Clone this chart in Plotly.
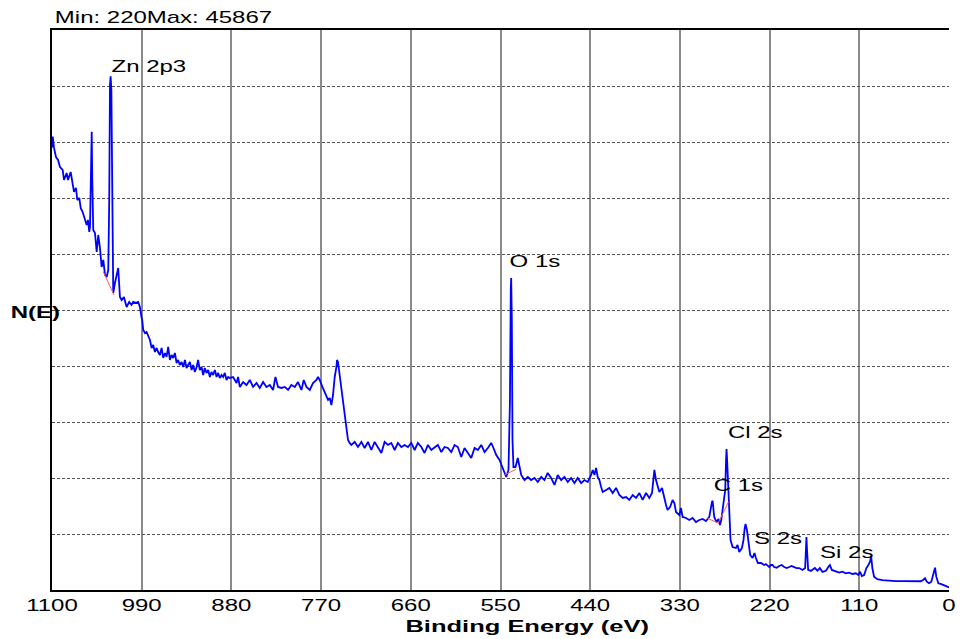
import plotly.graph_objects as go

# ---- data (binding energy in eV, counts) ----
be_main = [
    1100.0, 1099.1, 1097.5, 1095.1, 1092.6, 1090.2, 1086.9, 1085.3, 1082.0, 1080.4,
    1077.1, 1074.6, 1073.0, 1070.6, 1069.0, 1066.5, 1064.8, 1062.4, 1060.8, 1059.2,
    1057.5, 1055.9, 1054.3, 1053.4, 1052.2, 1051.3, 1050.6, 1049.4, 1047.3, 1045.2,
    1043.3, 1041.2, 1039.1, 1037.1, 1035.0, 1033.0, 1031.0, 1029.8, 1028.9, 1028.1,
    1027.2, 1026.2, 1024.9, 1022.8, 1020.7, 1018.8, 1016.7, 1014.6, 1011.8, 1008.5,
    1005.3, 1002.4, 1000.4, 997.1, 994.3, 992.2, 990.1, 989.4, 988.1, 986.0,
    984.0, 982.0, 979.9, 977.8, 975.9, 973.8, 971.7, 969.8, 967.7, 965.6,
    963.6, 961.5, 959.5, 957.5, 955.4, 953.4, 951.4, 949.3, 947.2, 945.3,
    943.2, 941.1, 939.1, 937.0, 935.0, 933.0, 930.9, 928.8, 926.9, 924.8,
    922.7, 920.8, 918.7, 916.6, 914.6, 912.6, 910.5, 908.5, 906.4, 904.4,
    902.4, 900.3, 898.2, 896.3, 894.2, 892.1, 890.1, 888.1, 886.0, 884.0,
    881.9, 877.9, 873.7, 871.8, 869.7, 865.6, 861.5, 857.4, 853.4, 849.2,
    845.2, 841.1, 837.0, 832.9, 828.9, 826.0, 822.8, 818.6, 814.6, 810.5,
    806.4, 802.3, 798.3, 794.1, 791.3, 788.0, 783.9, 779.9, 775.7, 773.8,
    771.7, 768.4, 765.6, 763.5, 761.5, 759.4, 757.4, 755.4, 753.3, 751.2,
    750.5, 749.3, 747.2, 745.1, 743.1, 741.1, 739.0, 737.0, 735.0, 732.9,
    728.8, 724.8, 720.6, 716.6, 712.5, 708.4, 704.3, 700.3, 696.1, 692.1,
    688.0, 683.9, 679.8, 675.8, 671.6, 667.6, 663.5, 659.4, 655.3, 651.3,
    647.1, 643.1, 639.0, 634.9, 630.8, 626.8, 622.6, 618.6, 614.5, 610.4,
    606.3, 602.3, 598.1, 594.1, 590.0, 585.9, 581.8, 577.8, 573.6, 569.6,
    565.5, 561.4, 558.6, 555.2, 551.2, 547.9, 545.1, 543.0, 540.2, 538.4,
    537.4, 536.9, 536.1, 535.3, 534.1, 531.6, 528.8, 526.7, 524.6, 520.6,
    516.5, 512.4, 508.3, 504.3, 500.1, 496.1, 492.1, 487.9, 483.8, 479.8,
    475.6, 471.6, 467.5, 463.4, 459.3, 455.3, 451.1, 447.1, 443.0, 438.9,
    436.9, 434.8, 432.8, 430.8, 428.7, 426.6, 424.7, 420.5, 416.5, 412.4,
    408.3, 404.2, 400.2, 396.0, 392.0, 387.9, 383.8, 379.7, 375.7, 371.5,
    367.5, 364.2, 362.6, 361.3, 359.3, 357.3, 355.2, 351.9, 349.1, 347.0,
    345.1, 342.1, 338.9, 336.8, 334.8, 330.7, 328.7, 326.7, 322.5, 318.5,
    314.4, 310.3, 306.2, 302.2, 298.0, 294.0, 290.7, 289.9, 287.9, 285.0,
    282.6, 280.9, 279.3, 276.8, 274.4, 273.4, 272.8, 272.1, 271.1, 269.5,
    267.9, 265.4, 261.3, 259.3, 257.2, 253.9, 252.0, 250.5, 249.5, 247.8,
    245.8, 243.8, 240.9, 238.5, 236.8, 234.3, 230.6, 226.6, 224.5, 222.6,
    220.5, 218.4, 216.4, 214.4, 211.3, 208.2, 205.2, 202.1, 199.0, 196.0,
    193.0, 189.9, 186.8, 183.7, 179.7, 176.4, 175.4, 174.8, 174.1, 172.7,
    169.4, 167.4, 164.5, 161.3, 158.4, 155.2, 151.0, 147.8, 146.1, 143.7,
    138.8, 134.7, 130.7, 126.5, 122.5, 118.4, 114.3, 111.1, 109.0, 106.9,
    104.1, 101.3, 98.9, 96.8, 95.5, 94.0, 91.9, 87.8, 81.7, 73.5,
    65.3, 57.2, 49.0, 40.8, 34.7, 31.8, 29.4, 27.3, 24.5, 21.7,
    19.6, 17.1, 15.6, 13.1, 10.2, 6.1, 2.1, 0.0,
]
counts_main = [
    39500, 40480, 39470, 38660, 38400, 37770, 37500, 36610, 37230, 36610,
    37320, 35980, 35540, 35900, 34820, 35000, 34110, 33750, 33310, 33040,
    32590, 33040, 31970, 32410, 36610, 40920, 36610, 32140, 31880, 30180,
    31700, 30540, 28840, 29470, 28130, 27950, 28570, 34820, 45090, 45867,
    44650, 34820, 26520, 27410, 28310, 28750, 26160, 25890, 26160, 25270,
    25720, 25450, 25720, 25630, 25720, 25270, 24290, 24110, 23220, 22950,
    23040, 22590, 22320, 21610, 21880, 21250, 21610, 21250, 20980, 21610,
    20720, 21160, 20810, 21700, 20540, 20980, 20720, 21160, 20270, 20540,
    20090, 20360, 19910, 20540, 19820, 20090, 20360, 19640, 20090, 19470,
    19910, 20540, 19640, 19910, 19200, 19820, 19380, 19640, 19020, 19470,
    19200, 19640, 19020, 19380, 18930, 19200, 19020, 19380, 18750, 19020,
    18930, 19020, 18480, 19020, 18130, 18570, 18300, 18750, 18130, 18480,
    18040, 18570, 18130, 18300, 17860, 19020, 18130, 18040, 18130, 17860,
    18300, 18130, 18570, 17860, 18750, 18130, 17860, 18480, 18750, 19020,
    18750, 18130, 17590, 17230, 16970, 17140, 16520, 17410, 19020, 19910,
    20540, 20360, 19200, 17860, 16520, 15450, 14290, 13390, 13130, 12950,
    13220, 12770, 13220, 12680, 13220, 12500, 13220, 12770, 12230, 13220,
    12950, 13130, 12500, 13130, 12770, 12950, 12770, 13130, 12500, 13130,
    12770, 12230, 12950, 12500, 12770, 12950, 12320, 12770, 12680, 12320,
    12950, 12770, 11880, 12680, 12230, 11790, 12680, 12500, 12950, 12320,
    12680, 13130, 12680, 12050, 11610, 10980, 10450, 10090, 10720, 16970,
    26790, 27860, 24110, 13390, 10980, 10980, 11790, 11160, 10270, 9820,
    10090, 9820, 10000, 9640, 10090, 9820, 10450, 10000, 9380, 10270,
    9820, 10090, 9640, 10000, 9550, 10000, 9550, 9820, 9640, 10270,
    10720, 10270, 10890, 10090, 9820, 9200, 8750, 8930, 9110, 8660,
    9110, 8480, 8220, 8300, 8040, 8480, 8220, 8660, 8040, 8660,
    8220, 8660, 9820, 10720, 9820, 9200, 8750, 9110, 8040, 7590,
    7140, 7410, 8040, 7770, 6970, 6700, 7320, 6520, 6430, 6250,
    6430, 6070, 6250, 6340, 6160, 6520, 7860, 7970, 6520, 6070,
    6340, 5800, 6250, 7410, 8930, 11610, 12590, 11610, 9820, 6520,
    4470, 3840, 3750, 4020, 3390, 3750, 4470, 5540, 5890, 5360,
    4020, 3130, 2860, 3300, 2860, 2410, 2410, 2230, 2320, 2140,
    2050, 2230, 2230, 2050, 1990, 2140, 2230, 2050, 1960, 2050,
    2140, 2050, 1960, 1960, 1790, 1960, 3570, 4730, 3570, 1790,
    1700, 1790, 1960, 1720, 1960, 1610, 1720, 2080, 2230, 1790,
    1630, 1550, 1630, 1490, 1550, 1430, 1490, 1340, 1630, 1250,
    1340, 1960, 2230, 2530, 3040, 1960, 1190, 960, 890, 830,
    800, 800, 780, 740, 780, 890, 1050, 740, 600, 740,
    1340, 1990, 1190, 600, 540, 450, 300, 220,
]

# background (fit) segments drawn in red
be_bg = [1037.1, 1024.0, None, 545.1, 530.8, None, 296.1, 283.0, 270.3]
counts_bg = [28420, 26340, None, 10270, 10780, None, 6400, 5980, 7880]

x_ticks = [1100, 990, 880, 770, 660, 550, 440, 330, 220, 110, 0]
x_tick_labels = [str(v) for v in x_ticks]

peak_names = ["Zn 2p3", "O 1s", "Cl 2s", "C 1s", "S 2s", "Si 2s"]
peak_label_be = [981.2, 507.1, 237.6, 258.5, 209.5, 125.6]
peak_label_counts = [46700, 29290, 14020, 9290, 4640, 3390]

title_text = "Min: 220Max: 45867"

FONT = "Arial, 'Liberation Sans', sans-serif"

fig = go.Figure()
fig.add_trace(go.Scatter(x=be_main, y=counts_main, mode="lines",
                         line=dict(color="#0000ff", width=1.8), hoverinfo="skip"))
fig.add_trace(go.Scatter(x=be_bg, y=counts_bg, mode="lines",
                         line=dict(color="#ff5a5a", width=1), hoverinfo="skip"))

annotations = []
for name, bx, cy in zip(peak_names, peak_label_be, peak_label_counts):
    annotations.append(dict(x=bx, y=cy, xref="x", yref="y", text=name, showarrow=False,
                            xanchor="center", yanchor="middle",
                            font=dict(family=FONT, size=16, color="black")))
annotations.append(dict(x=0.1242, y=1.0232, xref="paper", yref="paper", text=title_text,
                        showarrow=False, xanchor="center", yanchor="middle",
                        font=dict(family=FONT, size=16, color="black")))
annotations.append(dict(x=-0.0189, y=0.4964, xref="paper", yref="paper", text="<b>N(E)</b>",
                        showarrow=False, xanchor="center", yanchor="middle",
                        font=dict(family=FONT, size=16, color="black")))
annotations.append(dict(x=0.529, y=-0.066, xref="paper", yref="paper",
                        text="<b>Binding Energy (eV)</b>",
                        showarrow=False, xanchor="center", yanchor="middle",
                        font=dict(family=FONT, size=17, color="black")))

fig.update_layout(
    width=961, height=639,
    margin=dict(l=52, r=7, t=30, b=49),
    plot_bgcolor="white", paper_bgcolor="white",
    showlegend=False,
    font=dict(family=FONT, size=16, color="black"),
    annotations=annotations,
    xaxis=dict(range=[1100, 0], tickmode="array", tickvals=x_ticks, ticktext=x_tick_labels,
               showgrid=True, gridcolor="#8a8a8a", gridwidth=1.5,
               showline=True, linecolor="black", linewidth=1.5, mirror=True,
               ticks="", zeroline=False, tickfont=dict(family=FONT, size=16, color="black")),
    yaxis=dict(range=[0, 50000], tick0=0, dtick=5000, showticklabels=False, ticks="",
               showgrid=True, gridcolor="#555555", gridwidth=1, griddash="3px,2px",
               showline=True, linecolor="black", linewidth=1.5, zeroline=False),
)

post = """
var gd = document.getElementById('{plot_id}');
function stretchText(){
  var texts = gd.querySelectorAll('svg text');
  texts.forEach(function(t){
    if (t.getAttribute('data-sx')) return;
    var s = t.textContent;
    if (!s || !s.trim()) return;
    var bb = t.getBBox();
    var cx = bb.x + bb.width / 2;
    var tr = t.getAttribute('transform') || '';
    t.setAttribute('transform', tr + ' translate(' + cx + ',0) scale(1.5,1) translate(' + (-cx) + ',0)');
    t.setAttribute('data-sx', '1');
  });
}
stretchText();
gd.on('plotly_afterplot', stretchText);
"""

fig.write_html("out.html", config={"displayModeBar": False, "responsive": False},
               post_script=post)
